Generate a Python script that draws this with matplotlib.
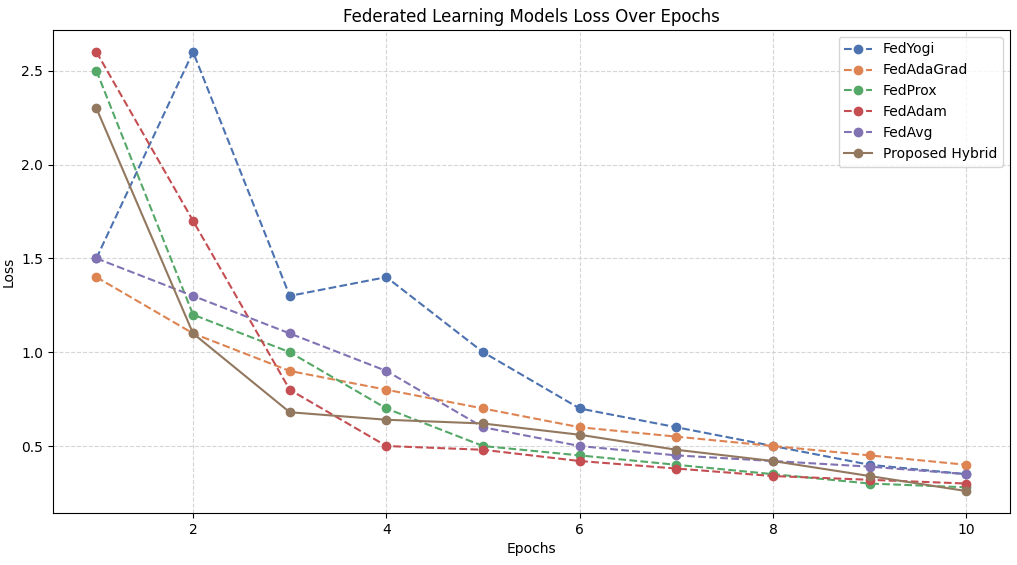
import matplotlib
matplotlib.use("Agg")
import matplotlib.pyplot as plt

epochs = [1, 2, 3, 4, 5, 6, 7, 8, 9, 10]
fedyogi = [1.5, 2.6, 1.3, 1.4, 1.0, 0.7, 0.6, 0.5, 0.4, 0.35]
fedadagrad = [1.4, 1.1, 0.9, 0.8, 0.7, 0.6, 0.55, 0.5, 0.45, 0.4]
fedprox = [2.5, 1.2, 1.0, 0.7, 0.5, 0.45, 0.4, 0.35, 0.3, 0.28]
fedadam = [2.6, 1.7, 0.8, 0.5, 0.48, 0.42, 0.38, 0.34, 0.32, 0.3]
fedavg = [1.5, 1.3, 1.1, 0.9, 0.6, 0.5, 0.45, 0.42, 0.39, 0.35]
hybrid = [2.3, 1.1, 0.68, 0.64, 0.62, 0.56, 0.48, 0.42, 0.34, 0.26]

names = ["FedYogi", "FedAdaGrad", "FedProx", "FedAdam", "FedAvg", "Proposed Hybrid"]
series = [fedyogi, fedadagrad, fedprox, fedadam, fedavg, hybrid]
colors = ["#4c72b0", "#dd8452", "#55a868", "#c44e52", "#8172b3", "#937860"]
styles = ["--", "--", "--", "--", "--", "-"]

fig, ax = plt.subplots(figsize=(10.17, 5.65), dpi=100)
for n, s, c, ls in zip(names, series, colors, styles):
    ax.plot(epochs, s, ls, marker="o", color=c, label=n, linewidth=1.5, markersize=6)

ax.set_title("Federated Learning Models Loss Over Epochs", fontsize=12)
ax.set_xlabel("Epochs")
ax.set_ylabel("Loss")
ax.grid(True, linestyle="--", color="#cccccc", linewidth=0.8, alpha=0.8)
ax.legend(loc="upper right")
fig.subplots_adjust(left=0.052, right=0.993, top=0.947, bottom=0.092)
fig.savefig("out.png")
